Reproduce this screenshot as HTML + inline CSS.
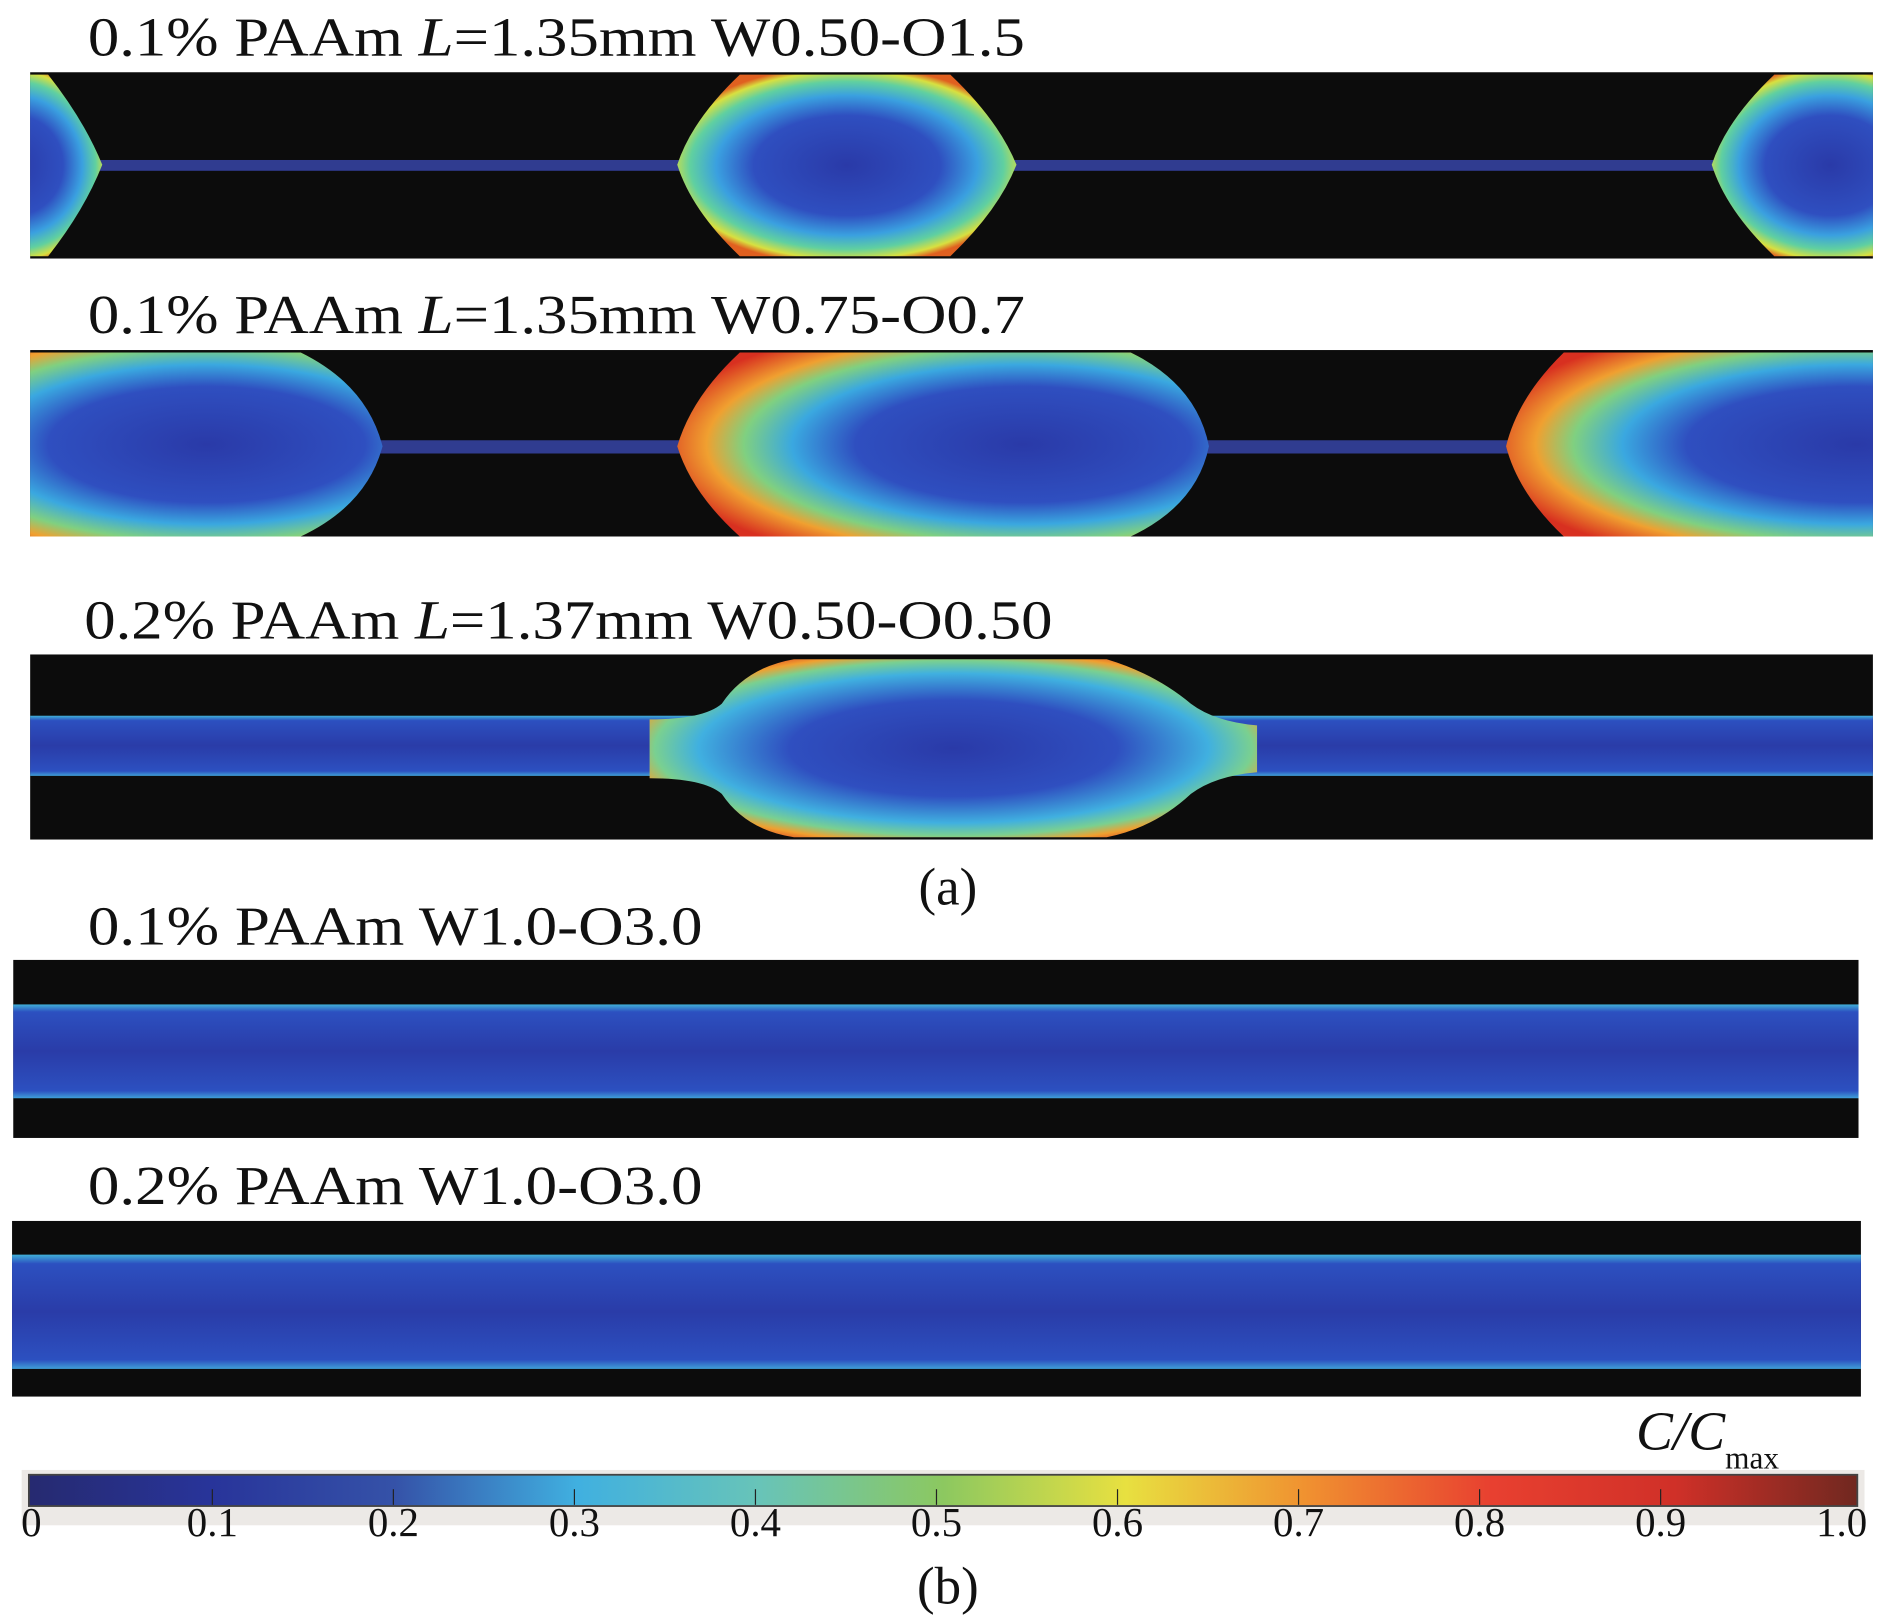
<!DOCTYPE html>
<html><head><meta charset="utf-8"><style>
html,body{margin:0;padding:0;background:#fff;}
svg{display:block;}
svg text{font-family:"Liberation Serif","Times New Roman",serif;fill:#111;}
</style></head><body>
<svg width="1885" height="1622" viewBox="0 0 1567 1348.4" xmlns="http://www.w3.org/2000/svg" font-family="Liberation Serif, serif">
<defs>
<radialGradient id="dropA" cx="0.5" cy="0.5" r="0.55">
<stop offset="0" stop-color="#2a3aa8"/><stop offset="0.5" stop-color="#2f4fc0"/>
<stop offset="0.7" stop-color="#3aa0e0"/><stop offset="0.84" stop-color="#60d0a0"/>
<stop offset="0.94" stop-color="#d8e040"/><stop offset="1" stop-color="#e06020"/></radialGradient>
<radialGradient id="dropB" cx="0.65" cy="0.5" r="0.7">
<stop offset="0" stop-color="#2a3aa8"/><stop offset="0.45" stop-color="#2f4fc0"/>
<stop offset="0.62" stop-color="#3aa8e0"/><stop offset="0.75" stop-color="#80d080"/>
<stop offset="0.85" stop-color="#f0a030"/><stop offset="1" stop-color="#d83020"/></radialGradient>
<radialGradient id="dropC" cx="0.5" cy="0.5" r="0.6">
<stop offset="0" stop-color="#2a3aa8"/><stop offset="0.45" stop-color="#2f4fc0"/>
<stop offset="0.7" stop-color="#40b0e0"/><stop offset="0.82" stop-color="#7ad090"/>
<stop offset="0.9" stop-color="#f0a030"/><stop offset="1" stop-color="#d83020"/></radialGradient>
<linearGradient id="stream" x1="0" y1="0" x2="0" y2="1">
<stop offset="0" stop-color="#40b0d8"/><stop offset="0.08" stop-color="#2c50c0"/>
<stop offset="0.5" stop-color="#2a3ca8"/><stop offset="0.92" stop-color="#2c50c0"/><stop offset="1" stop-color="#40a0d8"/></linearGradient>
<linearGradient id="jet" x1="0" y1="0" x2="1" y2="0">
<stop offset="0" stop-color="#262a70"/><stop offset="0.1" stop-color="#28349a"/>
<stop offset="0.2" stop-color="#3552a8"/><stop offset="0.3" stop-color="#40b0e0"/>
<stop offset="0.4" stop-color="#68c4b8"/><stop offset="0.5" stop-color="#8cc860"/>
<stop offset="0.6" stop-color="#e8e040"/><stop offset="0.7" stop-color="#f09030"/>
<stop offset="0.8" stop-color="#e84030"/><stop offset="0.9" stop-color="#d03028"/>
<stop offset="1" stop-color="#702820"/></linearGradient>
<clipPath id="c1"><rect x="25" y="60" width="1532" height="155"/></clipPath>
<clipPath id="c2"><rect x="25" y="291" width="1532" height="155"/></clipPath>
<clipPath id="c3"><rect x="25" y="544" width="1532" height="154"/></clipPath>
</defs>

<text x="73" y="46" font-size="46" textLength="779" lengthAdjust="spacingAndGlyphs">0.1% PAAm <tspan font-style="italic">L</tspan>=1.35mm W0.50-O1.5</text>
<g clip-path="url(#c1)">
<rect x="25" y="60" width="1532" height="155" fill="#0c0c0c"/>
<rect x="60" y="133" width="1420" height="9" fill="#303c90"/>
<path d="M-60,62 L40,62 Q70,100 85,137 Q70,175 40,213 L-60,213 Z" fill="url(#dropA)"/>
<path d="M615,62 L790,62 Q830,100 845,137 Q830,175 790,213 L615,213 Q575,175 563,137 Q575,100 615,62 Z" fill="url(#dropA)"/>
<path d="M1475,62 L1620,62 L1620,213 L1475,213 Q1435,175 1423,137 Q1435,100 1475,62 Z" fill="url(#dropA)"/>
</g>

<text x="73" y="277" font-size="46" textLength="779" lengthAdjust="spacingAndGlyphs">0.1% PAAm <tspan font-style="italic">L</tspan>=1.35mm W0.75-O0.7</text>
<g clip-path="url(#c2)">
<rect x="25" y="291" width="1532" height="155" fill="#0c0c0c"/>
<rect x="300" y="366" width="1000" height="11" fill="#303c90"/>
<path d="M-100,293 L250,293 Q305,320 318,371 Q305,420 250,446 L-100,446 Z" fill="url(#dropB)"/>
<path d="M615,293 L940,293 Q995,320 1005,371 Q995,420 940,446 L615,446 Q575,410 563,371 Q575,330 615,293 Z" fill="url(#dropB)"/>
<path d="M1300,293 L1700,293 L1700,446 L1300,446 Q1262,410 1252,371 Q1262,330 1300,293 Z" fill="url(#dropB)"/>
</g>

<text x="70" y="531" font-size="46" textLength="805" lengthAdjust="spacingAndGlyphs">0.2% PAAm <tspan font-style="italic">L</tspan>=1.37mm W0.50-O0.50</text>
<g clip-path="url(#c3)">
<rect x="25" y="544" width="1532" height="154" fill="#0c0c0c"/>
<rect x="25" y="595" width="1532" height="50" fill="url(#stream)"/>
<path d="M540,598 Q585,598 600,585 Q620,555 660,548 L920,548 Q960,560 990,585 Q1010,600 1045,603 L1045,642 Q1010,645 990,660 Q960,688 920,696 L660,696 Q620,690 600,660 Q585,647 540,647 Z" fill="url(#dropC)"/>
</g>
<text x="788" y="752" font-size="44" text-anchor="middle">(a)</text>

<text x="73" y="785" font-size="46" textLength="511" lengthAdjust="spacingAndGlyphs">0.1% PAAm W1.0-O3.0</text>
<g>
<rect x="11" y="798" width="1534" height="148" fill="#0c0c0c"/>
<rect x="11" y="835" width="1534" height="78" fill="url(#stream)"/>
</g>
<text x="73" y="1001" font-size="46" textLength="511" lengthAdjust="spacingAndGlyphs">0.2% PAAm W1.0-O3.0</text>
<g>
<rect x="10" y="1015" width="1537" height="146" fill="#0c0c0c"/>
<rect x="10" y="1043" width="1537" height="95" fill="url(#stream)"/>
</g>

<text x="1360" y="1205" font-size="46" font-style="italic">C/C<tspan font-size="26" font-style="normal" dy="16">max</tspan></text>
<g id="cb">
<rect x="18" y="1222" width="1532" height="46" fill="#ece9e6"/>
<rect x="24" y="1226" width="1520" height="26" fill="url(#jet)" stroke="#444" stroke-width="1.5"/>
</g>
<text x="788" y="1333" font-size="44" text-anchor="middle">(b)</text>
</svg>
<script>
const tickValues=[0,0.1,0.2,0.3,0.4,0.5,0.6,0.7,0.8,0.9,1.0];
const tickLabels=["0","0.1","0.2","0.3","0.4","0.5","0.6","0.7","0.8","0.9","1.0"];
const NS="http://www.w3.org/2000/svg";
const cb=document.getElementById('cb');
const xs=v=>26+v*(1531-26);
tickValues.forEach((v,i)=>{
  if(i>0&&i<tickValues.length-1){
    const l=document.createElementNS(NS,'line');
    
    
    l.setAttribute('x1',xs(v));l.setAttribute('x2',xs(v));
    l.setAttribute('y1',1238);l.setAttribute('y2',1251);
    l.setAttribute('stroke','#222');l.setAttribute('stroke-width','1');
    cb.appendChild(l);
  }
  const t=document.createElementNS(NS,'text');
  
  
  t.setAttribute('x',xs(v));t.setAttribute('y',1277);
  t.setAttribute('font-size','34');t.setAttribute('text-anchor','middle');
  t.textContent=tickLabels[i];
  cb.appendChild(t);
});
</script>
</body></html>
